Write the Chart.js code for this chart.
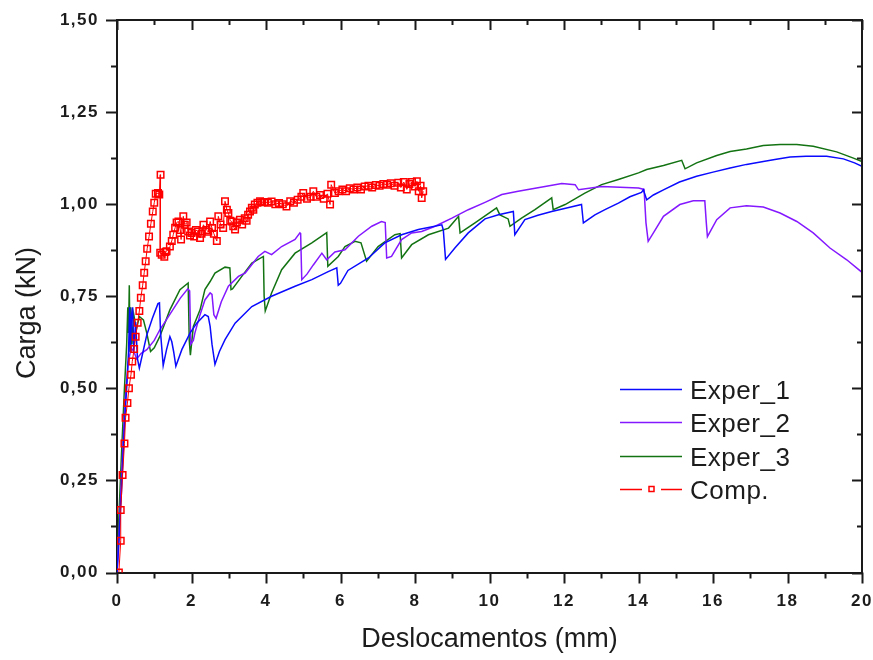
<!DOCTYPE html>
<html>
<head>
<meta charset="utf-8">
<script src="https://cdn.jsdelivr.net/npm/chart.js@4.4.1/dist/chart.umd.min.js"></script>
<style>
  html, body { margin: 0; padding: 0; background: #fff; }
  canvas { display: block; }
</style>
</head>
<body>
<canvas id="chart" width="873" height="660"></canvas>
<script>
// ===========================
// Data
// ===========================
const xTickLabels = ['0', '2', '4', '6', '8', '10', '12', '14', '16', '18', '20'];
const yTickLabels = ['0,00', '0,25', '0,50', '0,75', '1,00', '1,25', '1,50'];

const seriesNames = ['Exper_1', 'Exper_2', 'Exper_3', 'Comp.'];
const seriesColors = ['#0a0aff', '#8418ff', '#137313', '#ff0000'];

// Exper_1 (blue)
const exp1X = [0, 0.05, 0.12, 0.2, 0.27, 0.31, 0.34, 0.36, 0.39, 0.42, 0.45, 0.5, 0.55, 0.6, 0.7, 0.8, 0.95,
  1.1, 1.14, 1.17, 1.24, 1.33, 1.42, 1.47, 1.52, 1.58, 1.74, 1.96, 2.14, 2.36, 2.45, 2.5, 2.55, 2.63, 2.75,
  2.9, 3.17, 3.62, 4.15, 4.78, 5.23, 5.67, 5.9, 5.94, 6.0, 6.2, 6.75, 7.19, 7.64, 8.09, 8.72, 8.76, 8.82,
  9.07, 9.43, 9.88, 10.24, 10.64, 10.68, 10.95, 11.3, 11.67, 12.1, 12.47, 12.52, 12.83, 13.1, 13.46, 13.77,
  14.08, 14.13, 14.22, 14.4, 14.67, 15.1, 15.56, 16.0, 16.46, 16.9, 17.35, 17.7, 18.07, 18.5, 19.05, 19.5,
  19.8, 20.0];
const exp1Y = [0, 0.08, 0.22, 0.4, 0.52, 0.6, 0.72, 0.6, 0.7, 0.72, 0.6, 0.68, 0.58, 0.555, 0.6, 0.645, 0.69,
  0.73, 0.732, 0.65, 0.562, 0.605, 0.64, 0.627, 0.6, 0.56, 0.605, 0.65, 0.677, 0.7, 0.695, 0.668, 0.62, 0.565, 0.6,
  0.632, 0.677, 0.722, 0.75, 0.777, 0.795, 0.817, 0.827, 0.78, 0.785, 0.82, 0.854, 0.895, 0.917, 0.931, 0.944, 0.93, 0.85,
  0.881, 0.922, 0.96, 0.971, 0.98, 0.917, 0.958, 0.97, 0.98, 0.99, 0.999, 0.949, 0.971, 0.985, 1.003, 1.02,
  1.032, 1.039, 1.012, 1.025, 1.039, 1.06, 1.076, 1.087, 1.098, 1.108, 1.116, 1.122, 1.128, 1.13, 1.13, 1.123,
  1.112, 1.103];

// Exper_2 (violet)
const exp2X = [0, 0.06, 0.14, 0.22, 0.3, 0.38, 0.45, 0.53, 0.65, 0.8, 1.0, 1.15, 1.35, 1.51, 1.7, 1.9, 1.95,
  1.98, 2.05, 2.09, 2.23, 2.36, 2.5, 2.55, 2.6, 2.66, 2.8, 2.99, 3.26, 3.44, 3.79, 3.97, 4.15, 4.42, 4.78, 4.91,
  4.93, 4.96, 5.1, 5.27, 5.5, 5.63, 5.85, 6.12, 6.48, 6.84, 7.1, 7.2, 7.24, 7.37, 7.64, 7.91, 8.18, 8.54, 8.99,
  9.43, 9.88, 10.33, 10.77, 11.49, 11.94, 12.3, 12.39, 13.01, 13.5, 14.0, 14.15, 14.2, 14.26, 14.4, 14.67,
  15.11, 15.47, 15.78, 15.82, 15.85, 16.1, 16.46, 16.9, 17.35, 17.8, 18.25, 18.69, 19.14, 19.59, 20.0];
const exp2Y = [0, 0.12, 0.3, 0.47, 0.57, 0.61, 0.6, 0.58, 0.595, 0.605, 0.63, 0.659, 0.69, 0.715, 0.745, 0.77, 0.765,
  0.62, 0.63, 0.65, 0.7, 0.74, 0.759, 0.755, 0.7, 0.69, 0.735, 0.777, 0.804, 0.813, 0.858, 0.872, 0.863, 0.885, 0.904, 0.922,
  0.92, 0.795, 0.81, 0.835, 0.867, 0.849, 0.87, 0.876, 0.913, 0.94, 0.953, 0.95, 0.854, 0.858, 0.904, 0.922, 0.926, 0.94, 0.962,
  0.985, 1.005, 1.026, 1.035, 1.048, 1.056, 1.053, 1.039, 1.048, 1.046, 1.044, 1.04, 0.95, 0.899, 0.922, 0.967,
  0.999, 1.009, 1.009, 0.95, 0.912, 0.958, 0.99, 0.996, 0.992, 0.976, 0.953, 0.922, 0.881, 0.849, 0.815];

// Exper_3 (green)
const exp3X = [0, 0.05, 0.12, 0.2, 0.26, 0.29, 0.31, 0.33, 0.35, 0.37, 0.4, 0.45, 0.52, 0.6, 0.71, 0.8, 0.9, 1.0,
  1.15, 1.42, 1.69, 1.91, 1.94, 1.97, 2.05, 2.23, 2.36, 2.5, 2.63, 2.9, 3.03, 3.06, 3.1, 3.35, 3.62, 3.93, 3.95,
  3.98, 4.15, 4.42, 4.78, 5.23, 5.63, 5.66, 5.94, 6.12, 6.39, 6.55, 6.7, 7.01, 7.46, 7.6, 7.64, 7.91, 8.36, 8.9,
  9.17, 9.21, 9.61, 10.19, 10.28, 10.5, 10.55, 10.86, 11.22, 11.67, 11.71, 12.03, 12.56, 13.01, 13.46, 14.0,
  14.22, 14.67, 15.16, 15.25, 15.56, 16.1, 16.46, 16.9, 17.35, 17.8, 18.25, 18.69, 19.32, 19.77, 20.0];
const exp3Y = [0, 0.15, 0.32, 0.5, 0.62, 0.72, 0.65, 0.78, 0.6, 0.72, 0.62, 0.7, 0.66, 0.695, 0.686, 0.65, 0.6, 0.61,
  0.641, 0.713, 0.768, 0.786, 0.63, 0.59, 0.668, 0.713, 0.768, 0.79, 0.813, 0.829, 0.827, 0.768, 0.77, 0.804, 0.84, 0.858, 0.75,
  0.71, 0.759, 0.822, 0.867, 0.895, 0.923, 0.831, 0.858, 0.885, 0.899, 0.895, 0.845, 0.885, 0.917, 0.92, 0.854, 0.89, 0.917, 0.935,
  0.967, 0.922, 0.949, 0.99, 0.971, 0.96, 0.94, 0.962, 0.985, 1.017, 0.985, 0.999, 1.03, 1.053, 1.067, 1.085,
  1.094, 1.105, 1.119, 1.096, 1.112, 1.132, 1.143, 1.15, 1.159, 1.162, 1.162, 1.157, 1.142, 1.125, 1.116];

// Comp. (red squares)
const compX = [0.05, 0.1, 0.1, 0.15, 0.2, 0.23, 0.28, 0.32, 0.375, 0.41, 0.46, 0.5, 0.555, 0.6, 0.64, 0.69, 0.73,
  0.77, 0.81, 0.86, 0.91, 0.96, 1.0, 1.04, 1.1, 1.135, 1.17, 1.16, 1.2, 1.27, 1.3, 1.33, 1.42, 1.47, 1.51, 1.56,
  1.6, 1.65, 1.7, 1.72, 1.78, 1.82, 1.87, 1.91, 1.96, 2.0, 2.07, 2.12, 2.17, 2.23, 2.27, 2.32, 2.4, 2.45, 2.5,
  2.55, 2.6, 2.68, 2.72, 2.78, 2.85, 2.9, 2.95, 2.99, 3.04, 3.08, 3.12, 3.17, 3.22, 3.3, 3.36, 3.43, 3.48, 3.52,
  3.57, 3.62, 3.66, 3.7, 3.77, 3.84, 3.9, 3.96, 4.05, 4.15, 4.25, 4.35, 4.45, 4.55, 4.65, 4.75, 4.85, 4.95, 5.0,
  5.1, 5.2, 5.27, 5.35, 5.45, 5.55, 5.65, 5.72, 5.75, 5.85, 5.95, 6.05, 6.15, 6.25, 6.35, 6.45, 6.55, 6.65, 6.75,
  6.85, 6.95, 7.05, 7.15, 7.25, 7.35, 7.45, 7.55, 7.62, 7.7, 7.78, 7.85, 7.92, 8.0, 8.05, 8.1, 8.15, 8.18, 8.22];
const compY = [0.0, 0.086, 0.17, 0.265, 0.35, 0.42, 0.46, 0.5, 0.537, 0.573, 0.607, 0.64, 0.678, 0.71, 0.746, 0.78, 0.814,
  0.845, 0.879, 0.912, 0.947, 0.98, 1.004, 1.028, 1.03, 1.026, 1.08, 0.868, 0.863, 0.857, 0.87, 0.872, 0.885, 0.9, 0.917, 0.936,
  0.95, 0.953, 0.93, 0.904, 0.967, 0.944, 0.95, 0.926, 0.915, 0.922, 0.912, 0.93, 0.926, 0.908, 0.92, 0.944, 0.93, 0.925, 0.953,
  0.935, 0.92, 0.9, 0.967, 0.945, 0.935, 1.008, 0.985, 0.976, 0.955, 0.953, 0.94, 0.931, 0.95, 0.958, 0.945, 0.962, 0.955, 0.971,
  0.98, 0.99, 0.985, 0.999, 1.004, 1.008, 1.005, 1.006, 1.004, 1.007, 1.0, 1.003, 1.0, 0.994, 1.008, 1.004, 1.012, 1.02, 1.03,
  1.015, 1.02, 1.035, 1.02, 1.025, 1.015, 1.028, 0.999, 1.053, 1.03, 1.035, 1.04, 1.035, 1.043, 1.04, 1.045, 1.04, 1.048, 1.05,
  1.045, 1.052, 1.05, 1.055, 1.053, 1.057, 1.05, 1.058, 1.045, 1.06, 1.04, 1.055, 1.06, 1.048, 1.062, 1.035, 1.05, 1.017, 1.035];

// ===========================
// Styles
// ===========================
const FONT = 'Arial, "Liberation Sans", sans-serif';
const TXT = '#1c1c1c';
const AXIS = '#1a1a1a';

function toPoints(xs, ys) {
  return xs.map((x, i) => ({ x: x, y: ys[i] }));
}

function lineSet(i, xs, ys) {
  return {
    label: seriesNames[i],
    data: toPoints(xs, ys),
    showLine: true,
    borderColor: seriesColors[i],
    borderWidth: 1.5,
    pointRadius: 0,
    tension: 0,
    order: i + 1
  };
}

// ===========================
// Frame, minor ticks, y title, legend
// ===========================
const decorations = {
  id: 'decorations',
  afterDatasetsDraw(chart) {
    // tick labels are drawn after this hook (ticks.z = 1), with Origin-like spacing
    chart.ctx.letterSpacing = '1.5px';
  },
  afterDraw(chart) {
    const ctx = chart.ctx;
    ctx.letterSpacing = '0px';
    const { left, right, top, bottom } = chart.chartArea;
    const xs = chart.scales.x;
    const ys = chart.scales.y;

    ctx.save();
    ctx.strokeStyle = AXIS;
    ctx.lineWidth = 2;
    ctx.beginPath();
    ctx.moveTo(left - 1, top);
    ctx.lineTo(right, top);
    ctx.lineTo(right, bottom + 1);

    // x ticks: outward at bottom, inward at top
    for (let v = xs.min; v <= xs.max; v += 1) {
      const px = Math.round(xs.getPixelForValue(v)) + 0.5;
      const major = v % 2 === 0;
      ctx.moveTo(px, bottom);
      ctx.lineTo(px, bottom + (major ? 11 : 6));
      ctx.moveTo(px, top);
      ctx.lineTo(px, top + (major ? 10 : 5));
    }
    // y ticks: outward at left, inward at right
    for (let i = 0; i <= 12; i++) {
      const py = Math.round(ys.getPixelForValue(i * 0.125)) + 0.5;
      const major = i % 2 === 0;
      ctx.moveTo(left, py);
      ctx.lineTo(left - (major ? 11 : 6), py);
      ctx.moveTo(right, py);
      ctx.lineTo(right - (major ? 10 : 5), py);
    }
    ctx.stroke();

    // y axis title
    ctx.fillStyle = TXT;
    ctx.font = '27px ' + FONT;
    ctx.textAlign = 'center';
    ctx.textBaseline = 'alphabetic';
    ctx.translate(35, 313);
    ctx.rotate(-Math.PI / 2);
    ctx.fillText('Carga (kN)', 0, 0);
    ctx.restore();

    // legend
    ctx.save();
    ctx.font = '26px ' + FONT;
    ctx.letterSpacing = '0.5px';
    ctx.textAlign = 'left';
    ctx.textBaseline = 'alphabetic';
    chart.data.datasets.forEach((ds, i) => {
      const y = Math.round(389 + i * 33.4) + 0.5;
      ctx.strokeStyle = ds.borderColor;
      ctx.lineWidth = 1.6;
      ctx.beginPath();
      if (ds.pointStyle === 'rect') {
        ctx.moveTo(620, y); ctx.lineTo(642, y);
        ctx.moveTo(661, y); ctx.lineTo(682, y);
        ctx.stroke();
        ctx.lineWidth = 1.5;
        ctx.strokeRect(649, y - 3, 5, 5);
      } else {
        ctx.moveTo(620, y); ctx.lineTo(682, y);
        ctx.stroke();
      }
      ctx.fillStyle = TXT;
      ctx.fillText(ds.label, 690, y + 9);
    });
    ctx.restore();
  }
};

// ===========================
// Chart
// ===========================
const ctx = document.getElementById('chart').getContext('2d');

new Chart(ctx, {
  type: 'scatter',
  data: {
    datasets: [
      lineSet(0, exp1X, exp1Y),
      lineSet(1, exp2X, exp2Y),
      lineSet(2, exp3X, exp3Y),
      {
        label: seriesNames[3],
        data: toPoints(compX, compY),
        showLine: true,
        borderColor: seriesColors[3],
        borderWidth: 1,
        pointStyle: 'rect',
        pointRadius: 4.6,
        pointBorderWidth: 1.5,
        pointBorderColor: seriesColors[3],
        pointBackgroundColor: 'rgba(0,0,0,0)',
        order: 0
      }
    ]
  },
  options: {
    responsive: false,
    animation: false,
    layout: { padding: { left: 0, right: 11, top: 20, bottom: 0 } },
    plugins: { legend: { display: false }, tooltip: { enabled: false } },
    scales: {
      x: {
        type: 'linear',
        min: 0,
        max: 20,
        grid: { display: false, drawTicks: false },
        border: { display: true, color: AXIS, width: 2 },
        ticks: {
          stepSize: 2, z: 1, padding: 19, maxRotation: 0, autoSkip: false,
          color: TXT, font: { family: FONT, size: 17, weight: 'bold' },
          callback: (v, i) => xTickLabels[i]
        },
        title: {
          display: true, text: 'Deslocamentos (mm)', color: TXT,
          font: { family: FONT, size: 27 }, padding: { top: 0, bottom: 4 }
        },
        afterFit(s) { s.height = 87.5; s.paddingLeft = 0; s.paddingRight = 0; }
      },
      y: {
        type: 'linear',
        min: 0,
        max: 1.5,
        grid: { display: false, drawTicks: false },
        border: { display: true, color: AXIS, width: 2 },
        ticks: {
          stepSize: 0.25, z: 1, padding: 18, autoSkip: false,
          color: TXT, font: { family: FONT, size: 17, weight: 'bold' },
          callback: (v, i) => yTickLabels[i]
        },
        title: { display: false },
        afterFit(s) { s.width = 117; s.paddingTop = 0; s.paddingBottom = 0; }
      }
    }
  },
  plugins: [decorations]
});
</script>
</body>
</html>
